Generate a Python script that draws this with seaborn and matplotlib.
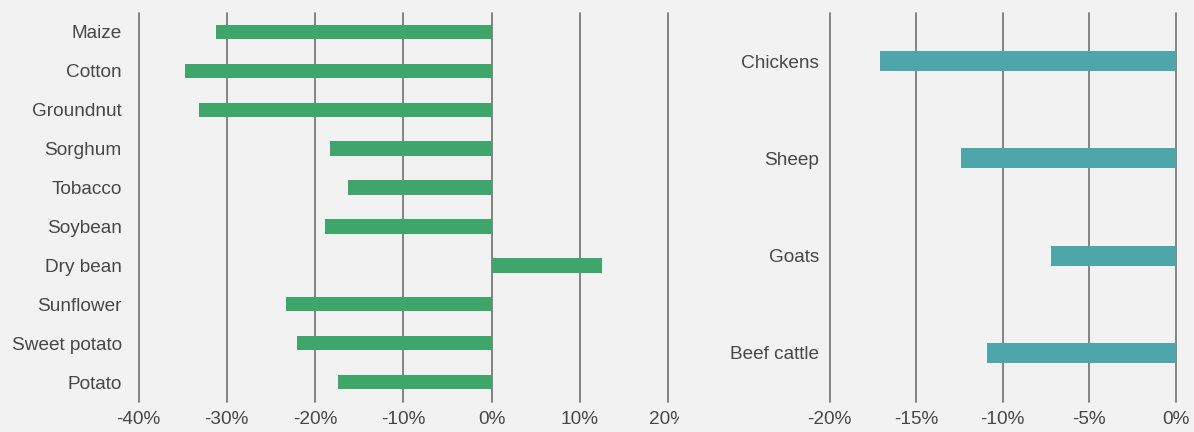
import matplotlib
matplotlib.use("Agg")
import matplotlib.pyplot as plt
import matplotlib.ticker as mticker
import matplotlib.transforms as mtransforms
import pandas as pd
import seaborn as sns

# Projected change in yield / output (percent)
crops = ["Maize", "Cotton", "Groundnut", "Sorghum", "Tobacco", "Soybean",
         "Dry bean", "Sunflower", "Sweet potato", "Potato"]
crop_change = [-31.2, -34.7, -33.1, -18.3, -16.3, -18.9, 12.5, -23.3, -22.0, -17.4]

livestock = ["Chickens", "Sheep", "Goats", "Beef cattle"]
livestock_change = [-17.1, -12.4, -7.2, -10.9]

crop_ticks = [-40, -30, -20, -10, 0, 10, 20]
livestock_ticks = [-20, -15, -10, -5, 0]

BG = "#f2f2f2"
GREEN = "#3fa66b"
TEAL = "#4ea5aa"
GRID = "#7b7b7b"
TEXT = "#474747"

sns.set_theme(style="white")
plt.rcParams["font.family"] = ["Liberation Sans", "DejaVu Sans"]

W, H = 1194, 432
fig = plt.figure(figsize=(W / 100, H / 100), dpi=100, facecolor=BG)


def px_axes(x0, x1, y_top, y_bot):
    return fig.add_axes([x0 / W, 1 - y_bot / H, (x1 - x0) / W, (y_bot - y_top) / H])


ax1 = px_axes(138.5, 668, 12.5, 401.5)
ax2 = px_axes(829.7, 1175.5, 12.5, 401.5)

crop_df = pd.DataFrame({"item": crops, "change": crop_change})
stock_df = pd.DataFrame({"item": livestock, "change": livestock_change})

sns.barplot(data=crop_df, x="change", y="item", orient="h", color=GREEN,
            saturation=1, width=0.37, linewidth=0, ax=ax1)
sns.barplot(data=stock_df, x="change", y="item", orient="h", color=TEAL,
            saturation=1, width=0.205, linewidth=0, ax=ax2)

pct = mticker.FuncFormatter(lambda v, _: f"{v:.0f}%")

for ax, ticks, ypad in ((ax1, crop_ticks, 12), (ax2, livestock_ticks, 7.5)):
    ax.set_facecolor(BG)
    ax.set_xlim(ticks[0], ticks[-1])
    ax.set_xticks(ticks)
    ax.xaxis.set_major_formatter(pct)
    ax.set_xlabel("")
    ax.set_ylabel("")
    for s in ax.spines.values():
        s.set_visible(False)
    ax.grid(axis="x", color=GRID, linewidth=1.3)
    ax.grid(axis="y", visible=False)
    ax.set_axisbelow(True)
    for gl in ax.get_xgridlines():
        gl.set_clip_on(False)
    ax.tick_params(axis="both", length=0, labelsize=13.7, colors=TEXT)
    ax.tick_params(axis="x", pad=6.5)
    ax.tick_params(axis="y", pad=ypad)

# the crop panel's last tick label is cut at the panel edge
fig.canvas.draw()
clip = mtransforms.Bbox.from_extents(0, 0, 679, H)
for lbl in ax1.get_xticklabels():
    lbl.set_clip_box(mtransforms.TransformedBbox(clip, mtransforms.IdentityTransform()))
    lbl.set_clip_on(True)

fig.savefig("out.png", dpi=100, facecolor=BG)
